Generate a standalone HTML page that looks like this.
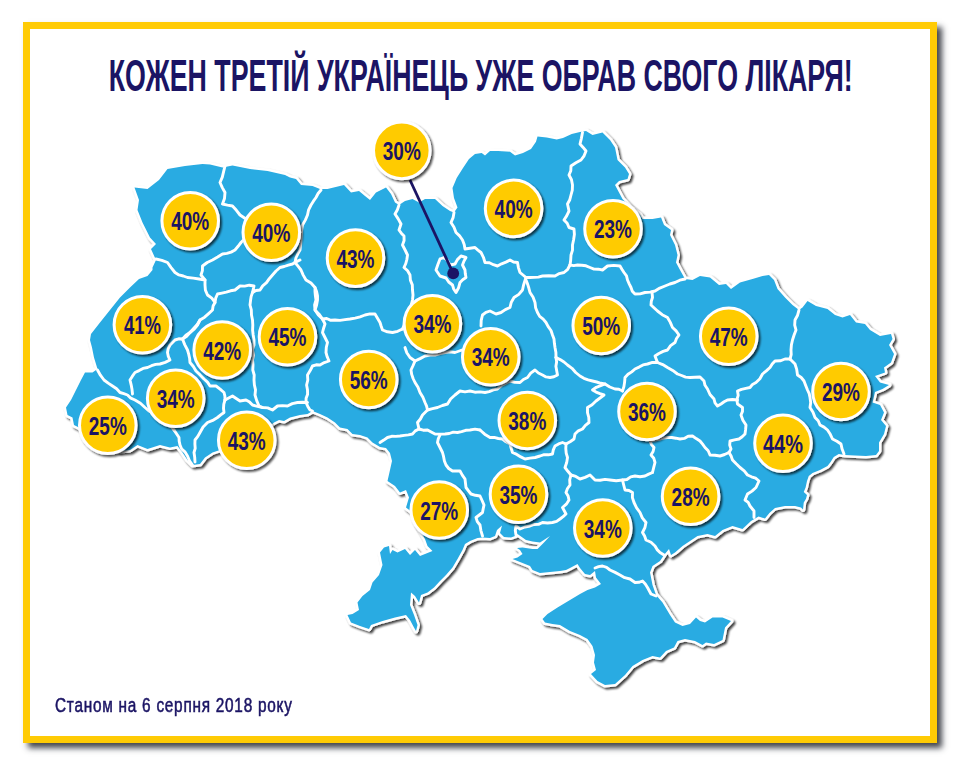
<!DOCTYPE html>
<html lang="uk"><head><meta charset="utf-8"><title>Кожен третій українець уже обрав свого лікаря</title>
<style>
html,body{margin:0;padding:0;background:#fff;}
body{width:960px;height:768px;position:relative;overflow:hidden;font-family:"Liberation Sans",sans-serif;}
#frame{position:absolute;left:23px;top:22px;width:900px;height:707px;border:7px solid #FFCB05;background:#fff;
 box-shadow:5px 5px 6px 0 rgba(42,46,54,.88);}
svg{position:absolute;left:0;top:0;}
.n{font-family:"Liberation Sans",sans-serif;font-weight:bold;font-size:26px;fill:#1B1464;}
.ttl{font-family:"Liberation Sans",sans-serif;font-weight:bold;font-size:44px;fill:#1B1464;}
#foot{position:absolute;left:55.2px;top:692.6px;font-size:19.6px;line-height:24px;color:#1B1464;white-space:nowrap;
 transform-origin:0 0;transform:scaleX(.784);letter-spacing:.95px;-webkit-text-stroke:.55px #1B1464;}
</style></head><body>
<div id="frame"></div>
<svg width="960" height="768" viewBox="0 0 960 768">
<defs>
<filter id="ms" x="-5%" y="-5%" width="110%" height="110%"><feGaussianBlur in="SourceAlpha" stdDeviation="1.1"/><feOffset dx="2.2" dy="2.2" result="b"/><feComponentTransfer><feFuncA type="linear" slope=".75"/></feComponentTransfer><feMerge><feMergeNode/><feMergeNode in="SourceGraphic"/></feMerge></filter>
<filter id="cs" x="-20%" y="-20%" width="150%" height="150%"><feGaussianBlur in="SourceAlpha" stdDeviation="1.3"/><feOffset dx="2.2" dy="2.2"/><feComponentTransfer><feFuncA type="linear" slope=".7"/></feComponentTransfer><feMerge><feMergeNode/><feMergeNode in="SourceGraphic"/></feMerge></filter>
</defs>
<g filter="url(#ms)"><polygon points="97.5,369 94,357.5 92,347.5 90,340 91,334 100,322.5 110,310 120,297.5 130,287.5 139,279 147.5,276 152.5,270 152.5,267.5 156,260 151,249 156,244 150,237.5 142.5,222.5 137.5,210 139,200 134.5,187.5 147.5,189 159,180 167.5,169 185,166 202.5,164 210,164.5 222.5,167.5 232.5,165.5 250,169 267.5,171 285,175 290,177.5 296,179 301,185 312.5,186 320,189 327.5,189 344,185 351,192.5 359,191 365,196 370,200 376,192.5 386,187.5 391,194 395,202.5 399,205 405,201 412.5,199 419,202.5 425,199 435,199 442.5,206 450,211 454,212.5 457.5,207.5 454,198 452.5,188 456.7,178 463,168 469,159 475,154 481.7,153 485,155.5 490,151 498,151 510,151.7 515,155.5 523,153 531,149 536,141.7 537.5,136.5 546.7,137.5 556.7,139.5 563,138 571.7,134 580,132 586,131 592.5,135 602.5,132.5 610,140 615,147.5 617.5,160 625,167.5 629,174 627.5,179 619,181 615,185 619,192.5 622.5,199 630,207 640,215 642.5,219 652.5,219 661,217.5 664,225 671,230 670,235 675,245 677.5,255 676,262.5 680,270 685,279 692.5,280 700,276 710,277.5 719,285 726,284 731,289 740,282.5 752.5,279 762.5,276 769,275 774,280 777.5,289 785,297.5 792.5,305 799,310 802.5,307.5 807.5,301 816,306 827.5,309 835,315 842.5,317.5 850,315 856,322.5 865,324 870,330 880,336 891,334 892.5,339 889,345 894,354 891,362.5 884,367.5 885,372.5 875,376 880,382.5 889,385 882.5,389 875,392 872.5,402.5 880,405 884,412.5 881,420 886,426 884,434 879,442.5 879,451 876,455 866,456 855,455.6 845,455 838.75,454 833.75,457 830.6,462 827.5,466 820,470 812.5,473 808.75,476 807,481 805.6,487.5 803.75,492 807,495 806,498.75 803.75,502.5 803,509.4 801,507.5 795,506 785,506 775,508 769.4,513 765,518.5 758.5,516.5 751,521 742.5,529 732.5,526 722.5,530 715,536 707.5,534 697.5,536 690,541 682.5,546 675,552.5 671,555 669,549 664,555 660,561 652.5,566 650,572.5 652.5,585 656,595 662.5,602.5 670,615 675,622.5 682.5,626 690,624 696,617.5 700,621 705,622.5 712.5,617.5 722.5,617.5 731,621 725,627.5 722.5,640 714,644 706,642.5 702.5,645 695,641 685,639 677.5,641 674,647.5 666,651 660,657.5 652.5,656 642.5,660 632.5,666 625,675 615,684 605,685 597.5,681 591,674 596,670 594,662.5 595,655 592.5,646 587.5,639 580,635 570,631 560,625 552.5,624 545,622.5 542.5,619 547.5,614 557.5,607.5 570,600 580,594 587.5,590 595,587.5 601,584 596,577.5 595,571 590,575 585,574 580,568 577.5,564 570,568 566,570 560,571 550,572 540,573 532.5,570 530,566 522.5,563 515,560 512.5,559 517.5,557.5 522.5,554 520,550 517,548 522.5,547.5 532.5,549 537.5,549 544,542.5 550,536 540,542.5 532.5,541.5 526,540 517.5,534 515,536 511,537.5 504,537 500,533 502,525.5 497,530 495,536 490,538 482.5,537.5 477.5,538 470,541 465,544 462.5,550 457.5,559 452.5,567.5 446,575 440,581 434,587.5 427.5,592.5 421,595 419,602.5 415,596 411,592.5 410,605 414,615 417.5,625 416,631 414,627.5 410,620 406,615 395,617.5 382.5,621 371,625 369,629 360,626 351,622.5 347.5,615 352.5,614 359,610 357.5,602.5 362.5,596 370,590 372.5,582.5 379,575 382.5,565 380,552.5 384,547.5 389,546 390,554 392.5,550 397.5,552.5 405,549 410,555 415,550 420,556 425,554 432.5,551 427.5,546 425,539 418,527 412.5,512.5 406,507.5 409,497.5 406,490 400,492.5 395,486 387.5,481 390,470 392,461 390,453 386,448 380,447 372.5,442.5 367.5,437.5 360,435 352.5,434 347.5,429 340,427.5 335,422.5 327.5,417.5 320,414 312.5,411 307.5,414 300,415 290,417.5 284,421 279,420 274,422.5 262,432 220,450 212.5,452.5 205,457.5 200,464 192.5,465 187.5,460 182.5,452.5 177.5,446 170,447.5 160,445 147.5,449 137.5,445 130,450 120,451 79,427.5 74,425 72.5,417.5 67.5,415 66,407.5 71,400 76,390 81,380 85,372.5 92.5,372.5" fill="#29ABE2" stroke="#fff" stroke-width="5" stroke-linejoin="round"/></g>
<polygon points="97.5,369 94,357.5 92,347.5 90,340 91,334 100,322.5 110,310 120,297.5 130,287.5 139,279 147.5,276 152.5,270 152.5,267.5 156,260 151,249 156,244 150,237.5 142.5,222.5 137.5,210 139,200 134.5,187.5 147.5,189 159,180 167.5,169 185,166 202.5,164 210,164.5 222.5,167.5 232.5,165.5 250,169 267.5,171 285,175 290,177.5 296,179 301,185 312.5,186 320,189 327.5,189 344,185 351,192.5 359,191 365,196 370,200 376,192.5 386,187.5 391,194 395,202.5 399,205 405,201 412.5,199 419,202.5 425,199 435,199 442.5,206 450,211 454,212.5 457.5,207.5 454,198 452.5,188 456.7,178 463,168 469,159 475,154 481.7,153 485,155.5 490,151 498,151 510,151.7 515,155.5 523,153 531,149 536,141.7 537.5,136.5 546.7,137.5 556.7,139.5 563,138 571.7,134 580,132 586,131 592.5,135 602.5,132.5 610,140 615,147.5 617.5,160 625,167.5 629,174 627.5,179 619,181 615,185 619,192.5 622.5,199 630,207 640,215 642.5,219 652.5,219 661,217.5 664,225 671,230 670,235 675,245 677.5,255 676,262.5 680,270 685,279 692.5,280 700,276 710,277.5 719,285 726,284 731,289 740,282.5 752.5,279 762.5,276 769,275 774,280 777.5,289 785,297.5 792.5,305 799,310 802.5,307.5 807.5,301 816,306 827.5,309 835,315 842.5,317.5 850,315 856,322.5 865,324 870,330 880,336 891,334 892.5,339 889,345 894,354 891,362.5 884,367.5 885,372.5 875,376 880,382.5 889,385 882.5,389 875,392 872.5,402.5 880,405 884,412.5 881,420 886,426 884,434 879,442.5 879,451 876,455 866,456 855,455.6 845,455 838.75,454 833.75,457 830.6,462 827.5,466 820,470 812.5,473 808.75,476 807,481 805.6,487.5 803.75,492 807,495 806,498.75 803.75,502.5 803,509.4 801,507.5 795,506 785,506 775,508 769.4,513 765,518.5 758.5,516.5 751,521 742.5,529 732.5,526 722.5,530 715,536 707.5,534 697.5,536 690,541 682.5,546 675,552.5 671,555 669,549 664,555 660,561 652.5,566 650,572.5 652.5,585 656,595 662.5,602.5 670,615 675,622.5 682.5,626 690,624 696,617.5 700,621 705,622.5 712.5,617.5 722.5,617.5 731,621 725,627.5 722.5,640 714,644 706,642.5 702.5,645 695,641 685,639 677.5,641 674,647.5 666,651 660,657.5 652.5,656 642.5,660 632.5,666 625,675 615,684 605,685 597.5,681 591,674 596,670 594,662.5 595,655 592.5,646 587.5,639 580,635 570,631 560,625 552.5,624 545,622.5 542.5,619 547.5,614 557.5,607.5 570,600 580,594 587.5,590 595,587.5 601,584 596,577.5 595,571 590,575 585,574 580,568 577.5,564 570,568 566,570 560,571 550,572 540,573 532.5,570 530,566 522.5,563 515,560 512.5,559 517.5,557.5 522.5,554 520,550 517,548 522.5,547.5 532.5,549 537.5,549 544,542.5 550,536 540,542.5 532.5,541.5 526,540 517.5,534 515,536 511,537.5 504,537 500,533 502,525.5 497,530 495,536 490,538 482.5,537.5 477.5,538 470,541 465,544 462.5,550 457.5,559 452.5,567.5 446,575 440,581 434,587.5 427.5,592.5 421,595 419,602.5 415,596 411,592.5 410,605 414,615 417.5,625 416,631 414,627.5 410,620 406,615 395,617.5 382.5,621 371,625 369,629 360,626 351,622.5 347.5,615 352.5,614 359,610 357.5,602.5 362.5,596 370,590 372.5,582.5 379,575 382.5,565 380,552.5 384,547.5 389,546 390,554 392.5,550 397.5,552.5 405,549 410,555 415,550 420,556 425,554 432.5,551 427.5,546 425,539 418,527 412.5,512.5 406,507.5 409,497.5 406,490 400,492.5 395,486 387.5,481 390,470 392,461 390,453 386,448 380,447 372.5,442.5 367.5,437.5 360,435 352.5,434 347.5,429 340,427.5 335,422.5 327.5,417.5 320,414 312.5,411 307.5,414 300,415 290,417.5 284,421 279,420 274,422.5 262,432 220,450 212.5,452.5 205,457.5 200,464 192.5,465 187.5,460 182.5,452.5 177.5,446 170,447.5 160,445 147.5,449 137.5,445 130,450 120,451 79,427.5 74,425 72.5,417.5 67.5,415 66,407.5 71,400 76,390 81,380 85,372.5 92.5,372.5" fill="#29ABE2"/>
<g fill="none" stroke="#fff" stroke-width="2.9" stroke-linejoin="round" stroke-linecap="round">
<polyline points="225.0,166.0 223.6,171.6 222.3,177.2 220.0,182.5 222.3,187.6 225.0,192.5 224.5,198.4 222.5,204.0 227.5,205.1 232.5,206.0 236.4,210.3 240.0,215.0 246.0,219.0 248.7,224.2 250.0,230.0 247.0,234.2 244.7,238.8 241.0,242.5 238.1,246.3 235.0,250.0 231.1,252.1 226.9,253.4 222.5,254.0 217.6,257.1 212.5,260.0 207.2,262.5 202.5,266.0 202.4,270.6 201.0,275.0 205.0,280.0"/>
<polyline points="156.0,259.0 161.9,260.3 167.5,262.5 171.1,267.6 175.0,272.5 178.9,274.9 183.3,276.0 187.5,277.5 193.3,278.1 199.0,279.0 205.0,280.0 205.0,285.0 205.4,290.2 207.5,295.0 211.8,298.2 215.0,302.5 213.1,306.0 212.5,310.0 208.6,313.6 204.6,317.2 200.0,320.0 197.2,324.6 193.6,328.5 190.0,332.5 185.9,335.3 182.5,339.0"/>
<polyline points="215.0,302.5 215.7,298.1 217.5,294.0 221.9,293.1 226.3,292.2 230.6,290.8 235.0,290.0 240.0,286.0 244.7,286.1 249.3,285.2 254.0,286.0 252.5,292.5 256.0,290.5 260.0,290.0 262.7,285.9 266.5,282.7 269.3,278.7 272.5,275.0 276.0,271.0 280.0,267.5 284.2,266.5 288.3,265.1 292.5,264.0 296.1,261.7 300.0,260.0 295.0,262.5"/>
<polyline points="252.5,292.5 251.1,296.6 250.5,300.8 250.0,305.0 251.3,309.9 251.5,315.0 252.5,320.0 252.8,325.0 252.6,330.1 253.2,335.0 254.0,340.0 254.0,345.0 252.4,349.9 253.6,355.1 252.5,360.0 253.0,365.0 252.8,370.0 254.2,375.0 254.0,380.0 254.4,385.0 255.5,389.9 255.0,395.0 256.7,400.6 259.0,406.0 262.5,407.5"/>
<polyline points="321.0,190.0 318.1,193.5 316.0,197.5 313.4,201.2 311.0,205.0 308.6,209.8 307.5,215.0 305.3,220.1 302.5,225.0 301.7,230.0 301.3,235.0 300.9,240.0 300.6,245.0 300.0,250.0 297.8,253.9 295.9,258.0 295.0,262.5 298.0,266.2 301.0,270.0 303.2,275.1 306.0,280.0 311.0,283.1 315.0,287.5 315.0,291.7 315.4,295.9 316.0,300.0 314.6,304.9 315.0,310.0 318.3,314.9 322.5,319.0"/>
<polyline points="399.0,205.0 397.4,209.7 395.0,214.0 398.2,218.9 401.0,224.0 399.0,230.0 401.3,233.2 404.0,236.0 404.1,240.6 402.5,245.0 405.1,250.0 407.5,255.0 406.9,259.3 405.8,263.5 404.0,267.5 407.6,270.8 410.0,275.0 410.4,280.1 412.3,284.9 412.5,290.0 413.0,295.0 412.5,300.0 411.2,305.1 408.9,309.8 408.0,315.0 406.9,319.9 404.4,324.4 402.5,329.0"/>
<polyline points="440.0,259.0 437.9,264.5 436.0,270.0 440.0,276.0 446.0,278.0 448.7,282.0 452.5,285.0 453.7,289.0 456.0,292.5 458.6,287.7 460.0,282.5 462.7,279.7 466.0,277.5 465.3,273.8 465.0,270.0 462.5,265.0 464.0,261.1 466.0,257.5 461.0,256.0 457.4,259.6 455.0,264.0 450.0,265.0 447.6,260.7 444.0,257.5 440.0,259.0"/>
<polyline points="454.0,212.5 453.1,217.7 451.0,222.5 454.0,227.2 456.0,232.5 459.6,235.9 462.5,240.0 464.2,244.4 465.0,249.0 470.0,248.2 475.0,247.5 477.9,250.1 481.0,252.5 483.4,257.3 485.0,262.5 489.4,262.8 493.4,264.7 497.5,266.0 501.6,263.8 505.9,262.1 510.0,260.0 513.5,262.0 517.5,262.5 518.4,267.6 520.0,272.5 523.0,275.0 526.0,277.5"/>
<polyline points="526.0,277.5 524.6,281.6 523.4,285.7 522.5,290.0 518.8,294.4 514.0,297.5 511.3,302.2 510.0,307.5 505.3,309.6 501.0,312.5 496.0,314.0 490.0,311.0 485.9,312.4 482.5,315.0 481.2,320.4 481.0,326.0"/>
<polyline points="582.5,132.5 581.4,138.3 580.0,144.0 583.1,147.4 586.0,151.0 584.1,155.8 581.0,160.0 575.9,162.8 571.0,166.0 570.8,170.7 569.0,175.0 571.5,179.7 572.5,185.0 572.3,190.1 571.0,195.0 569.8,199.7 567.5,204.0 569.0,211.0 566.8,215.6 564.0,220.0 567.2,223.3 569.0,227.5 574.0,229.0 574.4,234.4 573.6,239.7 572.5,245.0 572.5,250.1 571.0,255.0 570.7,260.0 570.0,265.0"/>
<polyline points="570.0,265.0 567.7,269.3 564.0,272.5 559.3,273.6 555.0,276.0 548.8,275.8 542.5,276.0 538.4,277.1 534.2,277.4 530.0,277.5 526.0,277.5"/>
<polyline points="526.0,280.0 527.6,284.1 528.9,288.3 530.0,292.5 533.1,297.2 535.0,302.5 535.6,307.7 537.5,312.5 539.7,316.4 543.2,319.1 546.0,322.5 548.2,326.7 551.0,330.5 552.5,335.0 554.0,339.0 554.4,343.3 555.0,347.5 555.9,352.5 556.0,357.5"/>
<polyline points="570.0,265.0 573.8,265.6 577.5,265.0 581.8,265.2 586.0,265.8 590.0,267.5 594.0,269.1 598.3,269.2 602.5,270.0 607.5,266.0 613.8,265.4 620.0,266.0 621.9,269.3 624.0,272.5 626.5,275.9 627.5,280.0 629.2,283.8 631.0,287.5 632.3,291.2 635.0,294.0 640.1,293.9 645.0,292.5 650.1,292.1 655.0,291.0 659.8,288.1 665.0,286.0 669.9,284.0 675.0,282.5 679.8,280.2 685.0,279.0"/>
<polyline points="652.0,292.0 652.5,297.5 651.3,301.2 651.0,305.0 654.2,308.0 657.5,311.0 662.2,314.7 667.5,317.5 670.3,322.4 672.5,327.5 676.1,330.9 679.0,335.0 676.5,338.5 675.0,342.5 670.6,345.6 667.5,350.0 663.1,351.4 658.9,353.5 655.0,356.0 657.5,362.5"/>
<polyline points="622.5,391.0 623.9,386.6 624.6,382.1 625.0,377.5 628.0,374.3 631.7,371.9 635.0,369.0 639.1,367.1 643.0,364.9 647.5,364.0 652.4,362.4 657.5,362.5 662.7,364.6 667.5,367.5 672.7,370.4 677.5,374.0 681.6,375.5 685.6,377.1 690.0,377.5 695.0,377.2 700.0,377.0 704.0,381.0 705.0,385.3 707.5,389.0 710.0,394.5 714.0,399.0 715.0,402.9 717.5,406.0 721.0,404.0 724.1,401.8 727.5,400.0 732.5,399.5 737.5,400.0"/>
<polyline points="556.0,357.5 560.1,359.6 564.0,362.0 567.5,365.0 572.0,368.3 575.7,372.5 580.0,376.0 583.9,378.3 588.1,379.9 592.5,381.0 596.7,382.0 600.8,383.3 605.0,384.0 609.8,387.0 615.0,389.0 618.9,389.3 622.5,391.0"/>
<polyline points="605.0,384.0 600.7,385.7 596.3,387.3 592.5,390.0 596.1,392.1 600.0,393.7 604.0,395.0 600.0,398.0 596.0,401.0 592.1,404.7 587.5,407.5 587.5,412.6 588.8,417.5 589.0,422.5 585.4,425.4 582.5,429.0 578.3,430.8 575.0,434.0 574.0,439.0 570.1,441.7 566.0,444.0"/>
<polyline points="556.0,357.5 556.6,361.9 555.9,366.3 556.7,370.7 557.5,375.0 553.9,376.8 550.0,377.5 546.0,376.9 542.5,375.0 538.4,373.0 535.0,370.0 530.7,373.2 527.5,377.5 523.4,379.5 520.0,382.5 514.9,382.4 510.0,381.0 505.5,383.2 501.2,385.6 497.5,389.0 493.3,389.9 489.2,391.6 485.0,392.5 480.0,391.9 474.9,392.2 470.0,391.0 465.0,391.9 460.0,391.0 455.0,395.0 450.6,399.0 447.5,404.0 442.4,405.5 437.5,407.5 432.5,408.7 427.5,410.0"/>
<polyline points="405.0,347.5 406.8,352.8 410.0,357.5 415.0,361.0 413.1,365.5 411.0,370.0 411.7,374.4 413.1,378.5 415.0,382.5 418.0,387.3 420.0,392.5 422.9,397.3 425.0,402.5 426.6,406.1 427.5,410.0 422.5,415.0 420.4,419.0 417.5,422.5 419.0,429.0"/>
<polyline points="415.0,361.0 420.1,358.6 425.0,356.0 430.0,355.1 435.0,355.0 440.0,353.6 445.0,352.5 450.0,351.8 455.0,352.5 462.0,350.0"/>
<polyline points="419.0,429.0 415.3,430.9 412.5,434.0 408.4,434.9 404.2,435.4 400.0,436.0 395.8,436.4 391.6,436.3 387.5,437.5 383.8,440.1 380.0,442.5"/>
<polyline points="419.0,429.0 423.2,430.2 427.5,430.0 431.2,432.0 435.0,434.0 440.0,434.1 445.0,434.0 449.2,433.5 453.2,432.1 457.5,432.5 461.6,431.6 465.7,430.3 470.0,430.0 475.0,429.1 480.0,430.0"/>
<polyline points="480.0,430.0 484.7,434.2 490.0,437.5 494.2,437.4 498.3,438.5 502.5,439.0 506.0,441.8 510.0,444.0 511.2,448.3 512.5,452.5 516.8,454.4 520.8,456.9 525.0,459.0 530.0,458.1 535.1,457.5 540.0,456.0 544.1,454.6 548.4,454.8 552.5,454.0 553.3,449.9 555.0,446.0 558.6,443.9 562.5,442.5 566.0,444.0"/>
<polyline points="440.0,435.0 438.3,438.6 437.5,442.5 440.0,447.5 442.5,452.5 443.6,456.7 444.4,461.0 446.0,465.0 448.7,468.5 452.5,471.0 456.2,470.9 460.0,471.0 462.3,475.1 465.0,479.0 465.5,483.3 466.0,487.5 468.5,490.8 471.0,494.0 475.4,495.3 480.0,496.0 482.1,500.5 484.0,505.0 483.2,508.7 482.5,512.5 479.3,515.0 476.0,517.5 477.3,521.6 480.0,525.0 480.9,530.6 482.5,536.0"/>
<polyline points="566.0,444.0 565.8,448.6 566.2,453.1 567.5,457.5 566.7,462.6 565.0,467.5 567.9,471.3 571.0,475.0 569.7,479.9 570.0,485.0 567.5,488.5 566.0,492.5 568.1,496.0 569.0,500.0 566.3,504.2 562.5,507.5 566.0,514.0 563.1,516.6 560.0,519.0 556.6,521.4 552.5,522.5 547.5,523.0 542.5,522.5 538.5,524.4 534.1,524.5 530.0,526.0 524.9,527.0 520.0,529.0 516.0,526.0 515.3,530.5 516.0,535.0"/>
<polyline points="571.0,475.0 575.8,476.4 580.0,479.0 585.1,477.4 590.0,475.0 595.0,480.0 600.0,480.3 605.0,479.4 610.0,480.0 616.2,480.7 622.5,480.0 626.9,479.5 630.7,476.9 635.0,476.0 640.0,476.8 645.0,476.0 648.7,474.1 652.5,472.5"/>
<polyline points="652.5,472.5 653.7,467.5 655.0,462.5 653.8,458.3 651.0,455.0 653.1,451.5 654.0,447.5 651.5,444.6 650.0,441.0 654.4,440.0 658.8,439.3 663.1,438.1 667.5,437.5 671.7,437.5 675.9,438.2 680.0,439.0 684.3,438.4 688.1,436.2 692.5,436.0 696.2,438.6 700.0,441.0 702.6,444.2 705.0,447.5 708.2,450.8 710.0,455.0 715.0,455.2 720.0,456.0 724.6,454.5 729.0,452.5"/>
<polyline points="622.5,480.0 623.7,485.0 625.0,490.0 629.0,490.5 632.5,492.5 632.4,497.6 634.0,502.5 636.6,507.8 640.0,512.5 642.3,517.9 646.0,522.5 644.9,527.7 642.5,532.5 644.6,536.1 646.0,540.0 651.0,542.3 655.0,546.0 657.1,549.6 660.0,552.5 664.0,555.0"/>
<polyline points="595.0,568.0 598.6,566.6 602.5,566.0 606.6,567.4 610.0,570.0 615.1,572.4 620.0,575.0 624.7,577.7 630.0,579.0 635.0,582.5 638.9,582.3 642.5,581.0 645.3,584.0 647.5,587.5 651.0,594.0 656.0,596.0"/>
<polyline points="799.0,310.0 797.6,315.2 795.0,320.0 794.7,325.1 796.0,330.0 794.1,335.0 792.5,340.0 791.4,344.9 791.0,350.0 791.2,354.6 790.0,359.0"/>
<polyline points="790.0,359.0 785.0,359.0 780.2,360.8 775.0,361.0 772.2,364.0 770.0,367.5 766.3,370.9 762.5,374.0 759.9,378.7 756.0,382.5 752.5,384.4 750.0,387.5 745.8,388.4 741.5,389.3 737.5,391.0 738.2,395.3 736.9,399.7 737.5,404.0 742.5,407.5 742.5,411.4 741.0,415.0 742.9,420.3 746.0,425.0 745.6,429.5 745.0,434.0 742.2,436.7 739.0,439.0 734.5,439.9 730.0,441.0 729.7,445.1 731.0,449.0 729.0,452.5"/>
<polyline points="790.0,359.0 795.0,364.0 796.7,369.4 797.5,375.0 801.2,377.5 804.0,381.0 805.7,385.5 807.5,390.0 809.2,393.6 810.0,397.5 810.7,402.5 810.0,407.5 813.0,412.2 815.0,417.5 818.2,420.8 820.0,425.0 824.0,427.1 827.5,430.0 830.3,434.3 832.5,439.0 836.9,441.2 841.0,444.0 842.1,449.1 844.0,454.0"/>
<polyline points="729.0,452.5 731.1,456.1 732.5,460.0 736.2,463.8 740.0,467.5 744.2,470.8 747.5,475.0 751.5,476.8 755.6,478.2 759.0,481.0 756.0,487.5 752.0,491.1 747.5,494.0 745.0,500.0 748.2,502.4 750.0,506.0 754.0,511.0 754.0,517.5"/>
<polyline points="97.5,370.0 100.4,375.2 104.0,380.0 108.2,383.1 112.5,386.0 116.6,388.8 120.0,392.5 123.8,393.7 127.5,395.0 130.8,398.2 135.0,400.0 140.4,403.2 145.0,407.5 149.0,411.0 153.1,413.2 157.7,414.2 162.0,416.0 165.0,419.5 167.5,423.4 171.1,426.4 174.0,430.0"/>
<polyline points="174.0,430.0 176.5,433.8 179.0,437.5 179.2,441.3 180.0,445.0 181.8,449.2 185.2,452.2 187.5,456.0 189.5,460.8 192.5,465.0"/>
<polyline points="132.5,394.0 132.0,389.3 131.1,384.6 130.0,380.0 132.4,376.2 135.0,372.5 139.1,370.6 143.0,368.4 147.5,367.5 151.5,365.7 155.6,364.4 160.0,364.0 165.2,362.4 170.0,360.0 168.3,356.4 167.5,352.5 168.2,348.6 170.0,345.0 175.0,340.0 178.7,338.8 182.5,339.0"/>
<polyline points="182.5,339.0 186.7,336.2 190.0,332.5 194.2,329.2 197.5,325.0 200.0,320.0"/>
<polyline points="182.5,339.0 184.7,344.6 187.5,350.0 188.7,354.1 189.6,358.2 190.0,362.5 193.3,366.5 196.0,371.0 200.1,374.9 204.0,379.0 207.5,382.1 210.0,386.0 216.0,386.0 220.1,389.2 224.0,392.5 224.9,396.2 225.0,400.0"/>
<polyline points="225.0,400.0 223.8,404.1 223.5,408.3 224.0,412.5 220.7,414.9 217.5,417.5 212.7,420.4 207.5,422.5 203.1,427.0 200.0,432.5 197.8,436.4 195.0,440.0 194.9,444.2 195.2,448.4 194.0,452.5 194.7,457.2 195.0,462.0"/>
<polyline points="225.0,400.0 228.7,398.0 232.5,396.0 236.2,398.5 240.0,401.0 246.0,400.0 249.6,402.1 252.5,405.0 257.5,406.3 262.5,407.5 267.7,407.9 272.5,410.0 277.5,406.0 282.5,405.6 287.5,406.0 292.3,403.6 297.5,402.5 302.5,402.3 307.5,402.5"/>
<polyline points="315.0,287.5 316.6,291.5 317.5,295.7 317.5,300.0 316.6,305.1 315.0,310.0 319.1,314.2 322.5,319.0 325.0,324.0 323.6,328.2 322.5,332.5 325.0,337.5 327.5,342.5 326.3,347.4 326.0,352.5 327.2,356.8 329.0,361.0 324.3,362.6 320.0,365.0 316.2,364.8 312.5,366.0 310.2,370.6 307.5,375.0 307.8,380.0 306.6,385.0 307.5,390.0 307.6,394.2 306.1,398.3 306.0,402.5 307.8,406.4 310.0,410.0 312.5,411.0"/>
<polyline points="322.5,319.0 326.7,318.5 330.8,320.3 335.0,320.0 340.0,320.4 345.0,319.6 350.0,319.0 355.1,318.1 360.1,316.9 365.0,315.0 369.9,313.9 375.0,314.0 377.5,318.3 380.0,322.5 381.2,326.3 382.5,330.0 387.4,331.8 392.5,332.5 397.7,331.3 402.5,329.0"/>
</g>
<line x1="410" y1="180" x2="453.2" y2="273.4" stroke="#1B1464" stroke-width="2.8"/>
<circle cx="453.2" cy="273.4" r="5.9" fill="#1B1464"/>
<g filter="url(#cs)"><circle cx="401.8" cy="150.4" r="28.3" fill="#FFCB05" stroke="#fff" stroke-width="3"/></g><text class="n" x="401.8" y="159.9" text-anchor="middle" textLength="38" lengthAdjust="spacingAndGlyphs">30%</text>
<g filter="url(#cs)"><circle cx="190.2" cy="220.8" r="28.3" fill="#FFCB05" stroke="#fff" stroke-width="3"/></g><text class="n" x="190.2" y="230.3" text-anchor="middle" textLength="38" lengthAdjust="spacingAndGlyphs">40%</text>
<g filter="url(#cs)"><circle cx="271.3" cy="232.2" r="28.3" fill="#FFCB05" stroke="#fff" stroke-width="3"/></g><text class="n" x="271.3" y="241.7" text-anchor="middle" textLength="38" lengthAdjust="spacingAndGlyphs">40%</text>
<g filter="url(#cs)"><circle cx="355.5" cy="258.1" r="28.3" fill="#FFCB05" stroke="#fff" stroke-width="3"/></g><text class="n" x="355.5" y="267.6" text-anchor="middle" textLength="38" lengthAdjust="spacingAndGlyphs">43%</text>
<g filter="url(#cs)"><circle cx="513.6" cy="208.4" r="28.3" fill="#FFCB05" stroke="#fff" stroke-width="3"/></g><text class="n" x="513.6" y="217.9" text-anchor="middle" textLength="38" lengthAdjust="spacingAndGlyphs">40%</text>
<g filter="url(#cs)"><circle cx="613" cy="228.75" r="28.3" fill="#FFCB05" stroke="#fff" stroke-width="3"/></g><text class="n" x="613" y="238.25" text-anchor="middle" textLength="38" lengthAdjust="spacingAndGlyphs">23%</text>
<g filter="url(#cs)"><circle cx="142.4" cy="324.7" r="28.3" fill="#FFCB05" stroke="#fff" stroke-width="3"/></g><text class="n" x="142.4" y="334.2" text-anchor="middle" textLength="37" lengthAdjust="spacingAndGlyphs">41%</text>
<g filter="url(#cs)"><circle cx="222.2" cy="350" r="28.3" fill="#FFCB05" stroke="#fff" stroke-width="3"/></g><text class="n" x="222.2" y="359.5" text-anchor="middle" textLength="38" lengthAdjust="spacingAndGlyphs">42%</text>
<g filter="url(#cs)"><circle cx="287.5" cy="336.75" r="28.3" fill="#FFCB05" stroke="#fff" stroke-width="3"/></g><text class="n" x="287.5" y="346.25" text-anchor="middle" textLength="38" lengthAdjust="spacingAndGlyphs">45%</text>
<g filter="url(#cs)"><circle cx="432.4" cy="323.7" r="28.3" fill="#FFCB05" stroke="#fff" stroke-width="3"/></g><text class="n" x="432.4" y="333.2" text-anchor="middle" textLength="38" lengthAdjust="spacingAndGlyphs">34%</text>
<g filter="url(#cs)"><circle cx="490.75" cy="356.75" r="28.3" fill="#FFCB05" stroke="#fff" stroke-width="3"/></g><text class="n" x="490.75" y="366.25" text-anchor="middle" textLength="38" lengthAdjust="spacingAndGlyphs">34%</text>
<g filter="url(#cs)"><circle cx="601.25" cy="325.5" r="28.3" fill="#FFCB05" stroke="#fff" stroke-width="3"/></g><text class="n" x="601.25" y="335" text-anchor="middle" textLength="38" lengthAdjust="spacingAndGlyphs">50%</text>
<g filter="url(#cs)"><circle cx="728.75" cy="336.25" r="28.3" fill="#FFCB05" stroke="#fff" stroke-width="3"/></g><text class="n" x="728.75" y="345.75" text-anchor="middle" textLength="38" lengthAdjust="spacingAndGlyphs">47%</text>
<g filter="url(#cs)"><circle cx="841" cy="391.5" r="28.3" fill="#FFCB05" stroke="#fff" stroke-width="3"/></g><text class="n" x="841" y="401" text-anchor="middle" textLength="38" lengthAdjust="spacingAndGlyphs">29%</text>
<g filter="url(#cs)"><circle cx="368.75" cy="379.5" r="28.3" fill="#FFCB05" stroke="#fff" stroke-width="3"/></g><text class="n" x="368.75" y="389" text-anchor="middle" textLength="38" lengthAdjust="spacingAndGlyphs">56%</text>
<g filter="url(#cs)"><circle cx="175.7" cy="398.3" r="28.3" fill="#FFCB05" stroke="#fff" stroke-width="3"/></g><text class="n" x="175.7" y="407.8" text-anchor="middle" textLength="38" lengthAdjust="spacingAndGlyphs">34%</text>
<g filter="url(#cs)"><circle cx="107.8" cy="425.3" r="28.3" fill="#FFCB05" stroke="#fff" stroke-width="3"/></g><text class="n" x="107.8" y="434.8" text-anchor="middle" textLength="38" lengthAdjust="spacingAndGlyphs">25%</text>
<g filter="url(#cs)"><circle cx="246.75" cy="440.3" r="28.3" fill="#FFCB05" stroke="#fff" stroke-width="3"/></g><text class="n" x="246.75" y="449.8" text-anchor="middle" textLength="38" lengthAdjust="spacingAndGlyphs">43%</text>
<g filter="url(#cs)"><circle cx="527.3" cy="420.5" r="28.3" fill="#FFCB05" stroke="#fff" stroke-width="3"/></g><text class="n" x="527.3" y="430" text-anchor="middle" textLength="38" lengthAdjust="spacingAndGlyphs">38%</text>
<g filter="url(#cs)"><circle cx="647" cy="411.5" r="28.3" fill="#FFCB05" stroke="#fff" stroke-width="3"/></g><text class="n" x="647" y="421" text-anchor="middle" textLength="38" lengthAdjust="spacingAndGlyphs">36%</text>
<g filter="url(#cs)"><circle cx="783" cy="443.25" r="28.3" fill="#FFCB05" stroke="#fff" stroke-width="3"/></g><text class="n" x="783" y="452.75" text-anchor="middle" textLength="40" lengthAdjust="spacingAndGlyphs">44%</text>
<g filter="url(#cs)"><circle cx="439.25" cy="510" r="28.3" fill="#FFCB05" stroke="#fff" stroke-width="3"/></g><text class="n" x="439.25" y="519.5" text-anchor="middle" textLength="38" lengthAdjust="spacingAndGlyphs">27%</text>
<g filter="url(#cs)"><circle cx="518.5" cy="494.25" r="28.3" fill="#FFCB05" stroke="#fff" stroke-width="3"/></g><text class="n" x="518.5" y="503.75" text-anchor="middle" textLength="38" lengthAdjust="spacingAndGlyphs">35%</text>
<g filter="url(#cs)"><circle cx="690.6" cy="496.25" r="28.3" fill="#FFCB05" stroke="#fff" stroke-width="3"/></g><text class="n" x="690.6" y="505.75" text-anchor="middle" textLength="38" lengthAdjust="spacingAndGlyphs">28%</text>
<g filter="url(#cs)"><circle cx="602.8" cy="528" r="28.3" fill="#FFCB05" stroke="#fff" stroke-width="3"/></g><text class="n" x="602.8" y="537.5" text-anchor="middle" textLength="38" lengthAdjust="spacingAndGlyphs">34%</text>
<text class="ttl" x="108.7" y="90.7" textLength="744" lengthAdjust="spacingAndGlyphs">КОЖЕН ТРЕТІЙ УКРАЇНЕЦЬ УЖЕ ОБРАВ СВОГО ЛІКАРЯ!</text>
</svg>
<div id="foot">Станом на 6 серпня 2018 року</div>
</body></html>
